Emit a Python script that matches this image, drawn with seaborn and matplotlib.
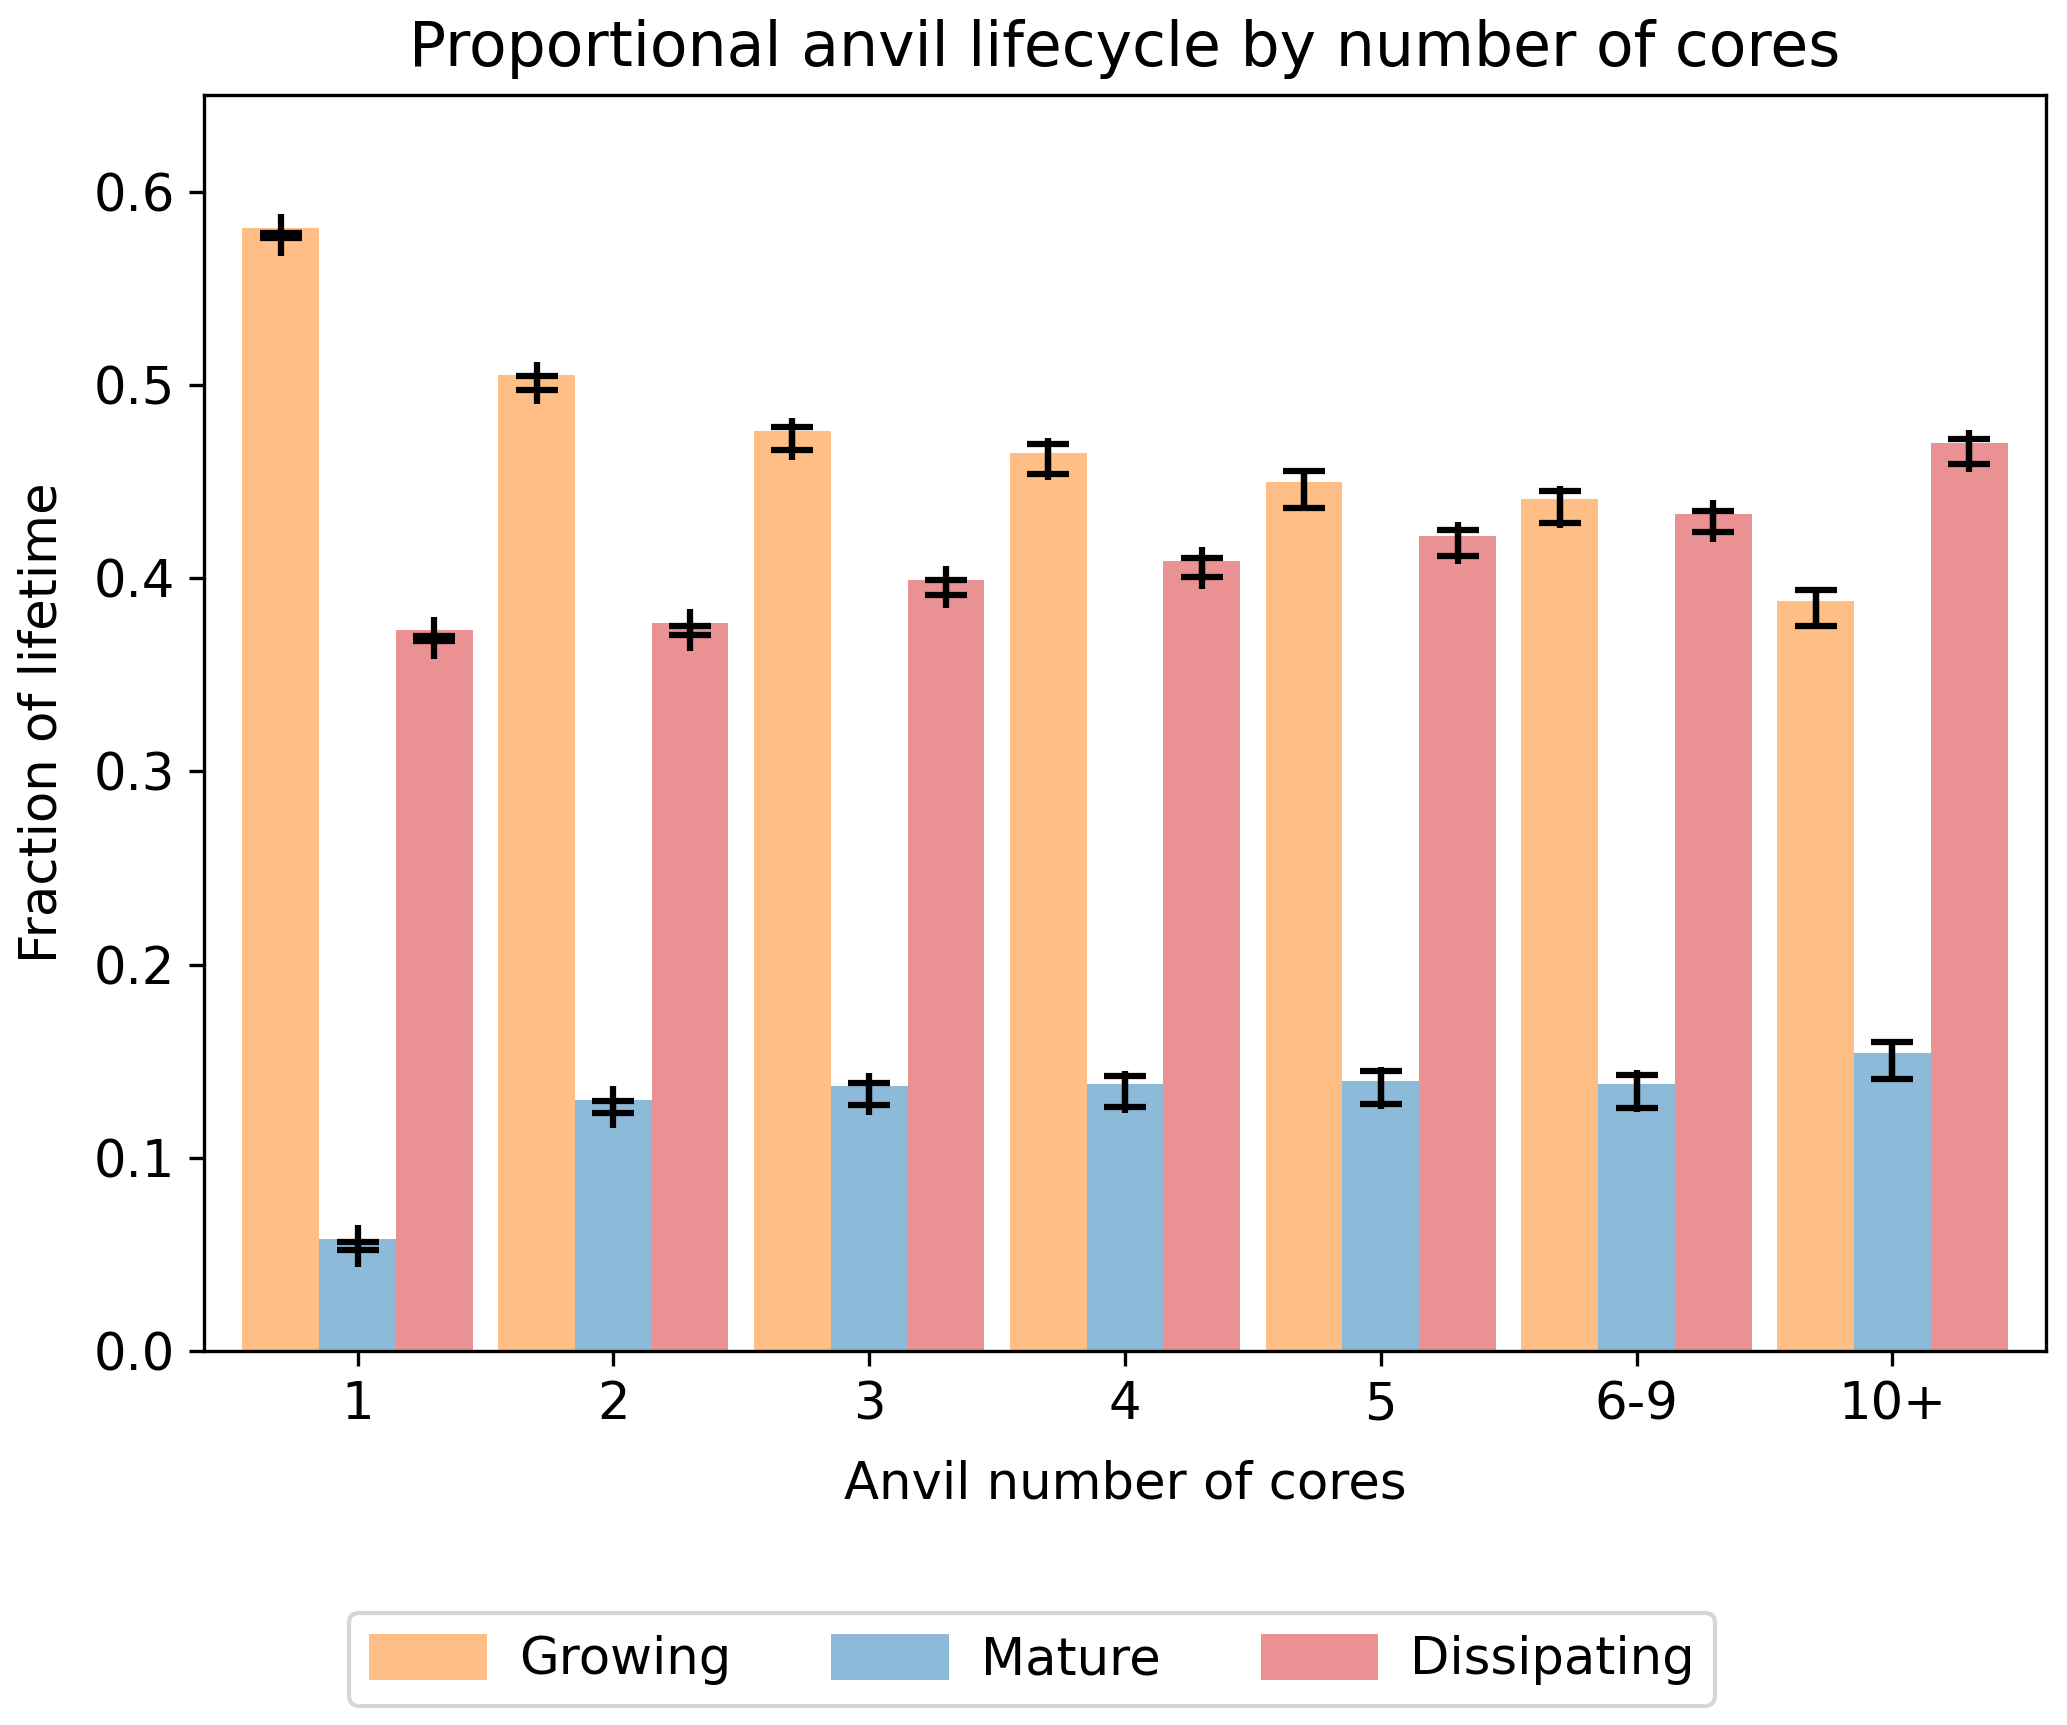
#!/usr/bin/env python3
import numpy as np
import pandas as pd
import matplotlib
matplotlib.use("Agg")
import matplotlib.pyplot as plt
import seaborn as sns

# Values
cores = ["1", "2", "3", "4", "5", "6-9", "10+"]
phases = ["Growing", "Mature", "Dissipating"]

growing = [0.581, 0.505, 0.476, 0.465, 0.450, 0.441, 0.388]
mature = [0.058, 0.130, 0.137, 0.138, 0.140, 0.138, 0.154]
dissipating = [0.373, 0.377, 0.399, 0.409, 0.422, 0.433, 0.470]

# confidence interval bounds (lower, upper) for each bar
growing_lo = [0.5760, 0.4974, 0.4662, 0.4538, 0.4362, 0.4286, 0.3753]
growing_hi = [0.5788, 0.5047, 0.4781, 0.4693, 0.4555, 0.4453, 0.3938]
mature_lo = [0.0525, 0.1232, 0.1275, 0.1263, 0.1277, 0.1260, 0.1406]
mature_hi = [0.0563, 0.1296, 0.1387, 0.1422, 0.1450, 0.1427, 0.1598]
dissipating_lo = [0.3676, 0.3708, 0.3914, 0.4005, 0.4117, 0.4240, 0.4591]
dissipating_hi = [0.3703, 0.3753, 0.3991, 0.4103, 0.4250, 0.4348, 0.4722]

colors = ["tab:orange", "tab:blue", "tab:red"]

plt.rcParams["font.size"] = 12.3


def build_frame():
    """Long-form table for seaborn"""
    rows = []
    for phase, vals in zip(phases, [growing, mature, dissipating]):
        for c, v in zip(cores, vals):
            rows.append({"cores": c, "phase": phase, "fraction": v})
    return pd.DataFrame(rows)


def main():
    df = build_frame()

    fig = plt.figure(figsize=(2067 / 300, 1725 / 300), dpi=300)
    ax = fig.add_axes([0.0987, 0.2168, 0.8911, 0.7281])

    sns.barplot(data=df, x="cores", y="fraction", hue="phase",
                order=cores, hue_order=phases, palette=colors,
                saturation=1, width=0.9, alpha=0.5, errorbar=None,
                legend=False, linewidth=0, ax=ax)

    # error bars on top of each bar
    bounds = [(growing_lo, growing_hi), (mature_lo, mature_hi),
              (dissipating_lo, dissipating_hi)]
    for container, (lo, hi) in zip(ax.containers, bounds):
        lo = np.array(lo)
        hi = np.array(hi)
        centre = (lo + hi) / 2
        xs = [b.get_x() + b.get_width() / 2 for b in container]
        ax.errorbar(xs, centre, yerr=(hi - lo) / 2, fmt="|", color="black",
                    markersize=10, markeredgewidth=1.5, elinewidth=1.5,
                    capsize=5, capthick=1.5)

    ax.set_xlim(-0.6, 6.6)
    ax.set_ylim(0, 0.65)
    ax.set_yticks([0.0, 0.1, 0.2, 0.3, 0.4, 0.5, 0.6])
    ax.set_xlabel("Anvil number of cores", labelpad=7)
    ax.set_ylabel("Fraction of lifetime", labelpad=6.2)
    ax.set_title("Proportional anvil lifecycle by number of cores",
                 fontsize=14.8, pad=7)

    handles = [plt.Rectangle((0, 0), 1, 1, color=c, alpha=0.5, linewidth=0)
               for c in colors]
    fig.legend(handles, phases, loc="center", bbox_to_anchor=(0.4993, 0.038),
               ncol=3, handlelength=2.3, handleheight=1.0, handletextpad=0.62,
               columnspacing=1.95, fontsize=12.3)

    fig.savefig("out.png", dpi=300)
    plt.close(fig)


if __name__ == "__main__":
    main()
